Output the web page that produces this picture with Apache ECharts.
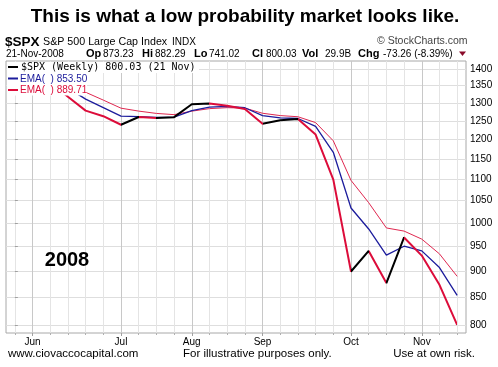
<!DOCTYPE html>
<html><head><meta charset="utf-8">
<script src="https://cdn.jsdelivr.net/npm/echarts@6/dist/echarts.min.js"></script>
<style>html,body{margin:0;padding:0;background:#fff}#c{width:498px;height:367px}</style>
</head><body><div id="c"></div>
<script>
// Weekly closes of $SPX (week ending dates)
const weeks = ['2008-05-30','2008-06-06','2008-06-13','2008-06-20','2008-06-27','2008-07-03','2008-07-11','2008-07-18','2008-07-25','2008-08-01','2008-08-08','2008-08-15','2008-08-22','2008-08-29','2008-09-05','2008-09-12','2008-09-19','2008-09-26','2008-10-03','2008-10-10','2008-10-17','2008-10-24','2008-10-31','2008-11-07','2008-11-14','2008-11-21'];
const spxClose = [1400.38,1360.68,1360.03,1317.93,1278.38,1262.90,1239.49,1260.68,1257.76,1260.31,1296.32,1298.20,1292.20,1282.83,1242.31,1251.70,1255.08,1213.27,1099.23,899.22,940.55,876.77,968.75,930.99,873.29,800.03];
const emaFast = [1396.67,1378.68,1369.35,1343.64,1311.01,1286.96,1263.22,1261.95,1259.86,1260.08,1278.20,1288.20,1290.20,1286.52,1264.41,1258.06,1256.57,1234.92,1167.08,1033.15,986.85,931.81,950.28,940.64,906.96,853.50];
const emaSlow = [1397.00,1384.89,1376.60,1357.04,1330.82,1308.18,1285.28,1277.08,1270.64,1267.20,1276.91,1284.01,1286.74,1285.44,1271.06,1264.61,1261.43,1245.38,1196.66,1097.51,1045.19,989.05,982.28,965.18,934.55,889.71];
const yTicks = [800,850,900,950,1000,1050,1100,1150,1200,1250,1300,1350,1400];
const monthWeeks = ['2008-06-06','2008-07-11','2008-08-08','2008-09-05','2008-10-10','2008-11-07'];
const monthNames = ['Jun','Jul','Aug','Sep','Oct','Nov'];

const RED = '#dc0c3a';
const RED_THIN = '#e02850';
const NAVY = '#1c1c9c';
const FONT = '"Liberation Sans", Arial, sans-serif';

const weekIdx = weeks.map((w, i) => i);
const monthIdx = monthWeeks.map(m => weeks.indexOf(m));
const toPts = arr => arr.map((v, i) => [i, v]);

const pieces = [];
for (let i = 0; i < spxClose.length - 1; i++) {
  const p = { gte: i, color: spxClose[i + 1] < spxClose[i] ? RED : '#000000' };
  if (i === spxClose.length - 2) p.lte = i + 1; else p.lt = i + 1;
  pieces.push(p);
}

const chart = echarts.init(document.getElementById('c'), null, { renderer: 'canvas' });
const xMin = -0.5, xMax = weeks.length - 0.5;

const header = [
  ['Op', 86, '873.23', 103],
  ['Hi', 142, '882.29', 155],
  ['Lo', 194, '741.02', 209],
  ['Cl', 252, '800.03', 266],
  ['Vol', 302, '29.9B', 325],
  ['Chg', 358, '-73.26 (-8.39%)', 383]
];
const graphics = [
  { type: 'text', x: 245, y: 17, z: 100, style: { text: 'This is what a low probability market looks like.', font: 'bold 19px ' + FONT, fill: '#000', align: 'center', verticalAlign: 'middle' } },
  { type: 'text', x: 5, y: 42, z: 100, style: { text: '$SPX', font: 'bold 13.5px ' + FONT, fill: '#000', verticalAlign: 'middle' } },
  { type: 'text', x: 43, y: 42, z: 100, style: { text: 'S&P 500 Large Cap Index', font: '10.7px ' + FONT, fill: '#000', verticalAlign: 'middle' } },
  { type: 'text', x: 172, y: 42, z: 100, style: { text: 'INDX', font: '10px ' + FONT, fill: '#000', verticalAlign: 'middle' } },
  { type: 'text', x: 377, y: 41, z: 100, style: { text: '© StockCharts.com', font: '10.5px ' + FONT, fill: '#444', verticalAlign: 'middle' } },
  { type: 'text', x: 6, y: 54, z: 100, style: { text: '21-Nov-2008', font: '10px ' + FONT, fill: '#000', verticalAlign: 'middle' } },
  { type: 'polygon', z: 100, shape: { points: [[459, 51.5], [466, 51.5], [462.5, 56]] }, style: { fill: '#8a0a2a' } },
  // legend box
  { type: 'rect', z: 99, shape: { x: 7, y: 62, width: 192, height: 11 }, style: { fill: '#fff' } },
  { type: 'rect', z: 99, shape: { x: 7, y: 73, width: 80, height: 22.5 }, style: { fill: '#fff' } },
  { type: 'rect', z: 100, shape: { x: 8, y: 66, width: 10, height: 2 }, style: { fill: '#000' } },
  { type: 'rect', z: 100, shape: { x: 8, y: 77.5, width: 10, height: 2 }, style: { fill: NAVY } },
  { type: 'rect', z: 100, shape: { x: 8, y: 89, width: 10, height: 2 }, style: { fill: RED } },
  { type: 'text', x: 21, y: 67.5, z: 100, style: { text: '$SPX (Weekly) 800.03 (21 Nov)', font: '10px "DejaVu Sans Mono", monospace', fill: '#000', verticalAlign: 'middle' } },
  { type: 'text', x: 20, y: 79, z: 100, style: { text: 'EMA(  ) ' + emaFast[emaFast.length - 1].toFixed(2), font: '10px ' + FONT, fill: NAVY, verticalAlign: 'middle' } },
  { type: 'text', x: 20, y: 90.5, z: 100, style: { text: 'EMA(  ) ' + emaSlow[emaSlow.length - 1].toFixed(2), font: '10px ' + FONT, fill: RED, verticalAlign: 'middle' } },
  { type: 'text', x: 67, y: 260, z: 100, style: { text: '2008', font: 'bold 20px ' + FONT, fill: '#000', align: 'center', verticalAlign: 'middle' } },
  { type: 'text', x: 8, y: 354, z: 100, style: { text: 'www.ciovaccocapital.com', font: '11.5px ' + FONT, fill: '#000', verticalAlign: 'middle' } },
  { type: 'text', x: 183, y: 354, z: 100, style: { text: 'For illustrative purposes only.', font: '11.5px ' + FONT, fill: '#000', verticalAlign: 'middle' } },
  { type: 'text', x: 475, y: 354, z: 100, style: { text: 'Use at own risk.', font: '11.5px ' + FONT, fill: '#000', align: 'right', verticalAlign: 'middle' } }
];
header.forEach(h => {
  graphics.push({ type: 'text', x: h[1], y: 54, z: 100, style: { text: h[0], font: 'bold 11px ' + FONT, fill: '#000', verticalAlign: 'middle' } });
  graphics.push({ type: 'text', x: h[3], y: 54, z: 100, style: { text: h[2], font: '10px ' + FONT, fill: '#000', verticalAlign: 'middle' } });
});

chart.setOption({
  animation: false,
  backgroundColor: '#fff',
  grid: { left: 6, right: 32, top: 61, bottom: 34, show: true, borderColor: '#a8a8a8', borderWidth: 1, containLabel: false },
  xAxis: [
    {
      type: 'value', min: xMin, max: xMax, position: 'bottom',
      axisLine: { show: false },
      axisTick: { show: true, customValues: weekIdx, length: 2, lineStyle: { color: '#b0b0b0' } },
      axisLabel: { show: false },
      splitLine: { show: true, lineStyle: { color: '#e4e4e4', width: 1 } }
    },
    {
      type: 'value', min: xMin, max: xMax, position: 'bottom',
      axisLine: { show: false },
      axisTick: { show: true, customValues: monthIdx, length: 3, lineStyle: { color: '#a0a0a0' } },
      axisLabel: { show: true, customValues: monthIdx, margin: 4, fontSize: 10, fontFamily: FONT, color: '#000',
        formatter: v => monthNames[monthIdx.indexOf(Math.round(v))] || '' },
      splitLine: { show: true, lineStyle: { color: '#c8c8c8', width: 1 } }
    }
  ],
  yAxis: {
    type: 'log', logBase: 10, min: 786, max: 1425, position: 'right',
    axisLine: { show: false },
    axisTick: { show: true, customValues: yTicks, length: 3, lineStyle: { color: '#a0a0a0' } },
    axisLabel: { show: true, customValues: yTicks, margin: 4, fontSize: 10, fontFamily: FONT, color: '#000',
      formatter: v => String(Math.round(v)) },
    splitLine: { show: true, lineStyle: { color: '#dedede', width: 1 } }
  },
  visualMap: {
    type: 'piecewise', show: false, dimension: 0, seriesIndex: 2, pieces: pieces
  },
  series: [
    { name: 'EMA slow', type: 'line', data: toPts(emaSlow), showSymbol: false, symbol: 'none', lineStyle: { color: RED_THIN, width: 1 }, z: 2 },
    { name: 'EMA fast', type: 'line', data: toPts(emaFast), showSymbol: false, symbol: 'none', lineStyle: { color: NAVY, width: 1.3 }, z: 3 },
    { name: '$SPX', type: 'line', data: toPts(spxClose), showSymbol: false, symbol: 'none', lineStyle: { width: 2 }, z: 4 }
  ],
  graphic: graphics
});
</script>
</body></html>
